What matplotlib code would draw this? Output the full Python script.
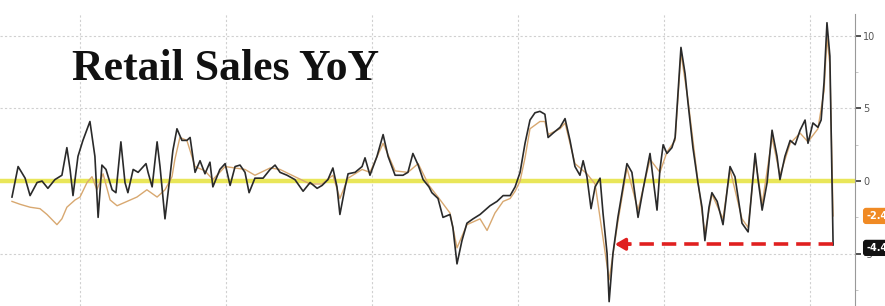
import numpy as np
import matplotlib
matplotlib.use("Agg")
import matplotlib.pyplot as plt

years = [1992.67, 1992.88, 1993.12, 1993.29, 1993.53, 1993.70, 1993.90, 1994.14, 1994.38, 1994.55,
         1994.66, 1994.76, 1994.93, 1995.10, 1995.34, 1995.51, 1995.62, 1995.75, 1995.89, 1996.10,
         1996.23, 1996.40, 1996.54, 1996.64, 1996.82, 1996.99, 1997.26, 1997.33, 1997.47, 1997.64,
         1997.74, 1997.91, 1998.08, 1998.18, 1998.32, 1998.49, 1998.66, 1998.77, 1998.94, 1999.11,
         1999.28, 1999.45, 1999.55, 1999.79, 1999.97, 2000.14, 2000.31, 2000.48, 2000.65, 2000.79,
         2000.99, 2001.27, 2001.51, 2001.68, 2001.85, 2002.09, 2002.36, 2002.64, 2002.88, 2003.12,
         2003.29, 2003.49, 2003.66, 2003.80, 2003.90, 2004.08, 2004.18, 2004.42, 2004.66, 2004.76,
         2004.93, 2005.17, 2005.38, 2005.55, 2005.79, 2006.06, 2006.23, 2006.40, 2006.58, 2006.75,
         2006.95, 2007.05, 2007.26, 2007.43, 2007.67, 2007.77, 2007.91, 2008.08, 2008.25, 2008.46,
         2008.70, 2008.87, 2009.04, 2009.28, 2009.49, 2009.73, 2009.90, 2010.07, 2010.24, 2010.41,
         2010.58, 2010.75, 2010.92, 2011.03, 2011.20, 2011.44, 2011.61, 2011.78, 2011.95, 2012.12,
         2012.23, 2012.36, 2012.50, 2012.64, 2012.81, 2012.91, 2013.05, 2013.12, 2013.25, 2013.42,
         2013.73, 2013.90, 2014.11, 2014.28, 2014.52, 2014.62, 2014.76, 2014.86, 2014.97, 2015.10,
         2015.27, 2015.38, 2015.58, 2015.72, 2015.82, 2015.99, 2016.16, 2016.30, 2016.40, 2016.54,
         2016.64, 2016.82, 2017.02, 2017.26, 2017.43, 2017.67, 2017.88, 2018.12, 2018.22, 2018.36,
         2018.53, 2018.70, 2018.87, 2018.97, 2019.14, 2019.32, 2019.49, 2019.66, 2019.83, 2019.93,
         2020.10, 2020.27, 2020.38, 2020.48, 2020.58, 2020.68, 2020.79]
actual = [-1.1, 1.0, 0.2, -1.0, -0.1, 0.0, -0.5, 0.1, 0.4, 2.3,
          0.8, -1.0, 1.7, 2.8, 4.1, 1.7, -2.5, 1.1, 0.8, -0.6,
          -0.8, 2.7, -0.1, -0.8, 0.8, 0.6, 1.2, 0.6, -0.4, 2.7,
          1.0, -2.6, 0.3, 2.1, 3.6, 2.8, 2.8, 3.0, 0.6, 1.4,
          0.5, 1.3, -0.4, 0.8, 1.2, -0.3, 1.0, 1.1, 0.6, -0.8,
          0.2, 0.2, 0.8, 1.1, 0.6, 0.4, 0.1, -0.7, -0.1, -0.5,
          -0.3, 0.1, 0.9, -0.4, -2.3, -0.4, 0.5, 0.6, 1.0, 1.6,
          0.4, 1.7, 3.2, 1.7, 0.4, 0.4, 0.6, 1.9, 1.1, 0.1,
          -0.4, -0.8, -1.2, -2.5, -2.3, -3.2, -5.7, -4.1, -2.9, -2.6,
          -2.3, -2.0, -1.7, -1.4, -1.0, -1.0, -0.4, 0.6, 2.6, 4.2,
          4.7, 4.8, 4.6, 3.0, 3.3, 3.7, 4.3, 2.8, 1.0, 0.4,
          1.4, 0.3, -1.9, -0.4, 0.2, -2.2, -5.0, -8.3, -5.0, -2.5,
          1.2, 0.6, -2.5, -0.6, 1.9, 0.3, -2.0, 0.8, 2.5, 1.9,
          2.3, 3.0, 9.2, 7.4, 5.4, 2.3, -0.1, -1.8, -4.1, -1.8,
          -0.8, -1.4, -3.0, 1.0, 0.3, -2.9, -3.5, 1.9, 0.1, -2.0,
          -0.1, 3.5, 1.7, 0.1, 1.7, 2.8, 2.5, 3.5, 4.2, 2.6,
          4.0, 3.7, 4.2, 6.8, 10.9, 8.6, -4.4]

# orange series: the second (smoother) line, mostly under the black one
years2 = [1992.67, 1992.95, 1993.29, 1993.63, 1993.87, 1994.21, 1994.38, 1994.55, 1994.83, 1995.00,
          1995.24, 1995.41, 1995.58, 1995.79, 1996.03, 1996.27, 1996.61, 1996.95, 1997.29, 1997.64,
          1997.91, 1998.15, 1998.25, 1998.42, 1998.66, 1998.94, 1999.28, 1999.55, 1999.97, 2000.31,
          2000.65, 2000.99, 2001.51, 2001.85, 2002.36, 2002.88, 2003.29, 2003.66, 2003.90, 2004.18,
          2004.66, 2004.93, 2005.38, 2005.79, 2006.23, 2006.58, 2006.95, 2007.26, 2007.67, 2007.91,
          2008.25, 2008.70, 2008.94, 2009.21, 2009.49, 2009.73, 2009.90, 2010.07, 2010.24, 2010.41,
          2010.75, 2010.92, 2011.03, 2011.44, 2011.61, 2011.95, 2012.36, 2012.64, 2013.12, 2013.42,
          2013.73, 2014.11, 2014.52, 2014.86, 2015.10, 2015.38, 2015.58, 2015.82, 2016.16, 2016.40,
          2016.64, 2017.02, 2017.26, 2017.67, 2017.88, 2018.12, 2018.36, 2018.70, 2018.97, 2019.32,
          2019.66, 2019.93, 2020.27, 2020.48, 2020.58, 2020.68, 2020.79]
forecast = [-1.4, -1.6, -1.8, -1.9, -2.3, -3.0, -2.6, -1.8, -1.3, -1.1,
            -0.1, 0.3, -0.6, 0.5, -1.3, -1.7, -1.4, -1.1, -0.6, -1.1,
            -0.6, 0.3, 1.5, 3.0, 2.8, 1.0, 0.7, 0.1, 1.0, 0.9,
            0.8, 0.4, 0.9, 0.8, 0.3, -0.2, -0.2, 0.4, -1.2, 0.2,
            0.8, 0.6, 2.6, 0.7, 0.6, 1.2, -0.3, -1.1, -2.2, -4.6,
            -3.0, -2.6, -3.4, -2.2, -1.4, -1.2, -0.7, 0.0, 1.6, 3.6,
            4.1, 4.1, 3.2, 3.6, 4.0, 1.2, 0.5, -0.2, -6.8, -2.8,
            0.9, -2.0, 1.5, 0.6, 2.0, 2.8, 8.8, 5.6, 0.0, -3.6,
            -0.9, -2.6, 0.8, -2.6, -3.2, 1.6, -1.6, 3.0, 0.4, 2.6,
            3.3, 2.7, 3.6, 6.2, 9.9, 8.0, -2.4]

last_actual_label = "-4.4"
last_forecast_label = "-2.4"
grid_years = [1995, 2000, 2005, 2010, 2015, 2020]
y_ticks = [10, 5, 0, -5]

fig = plt.figure(figsize=(8.85, 3.06), dpi=100)
ax = fig.add_axes([0, 0, 855 / 885, 1 - 14 / 306])

ax.set_xlim(1992.26, 2021.54)
ax.set_ylim(-8.6, 11.5)

for gx in grid_years:
    ax.axvline(gx, color="#d0d0d0", lw=0.8, ls=(0, (2, 2)), zorder=0)
for gy in [10, 5, -5]:
    ax.axhline(gy, color="#d0d0d0", lw=0.8, ls=(0, (2, 2)), zorder=0)

# zero line, thick yellow
ax.axhline(0, color="#e6e23c", lw=3.2, alpha=0.85, zorder=1)

ax.plot(years2, forecast, color="#d8a870", lw=1.0, zorder=2)
ax.plot(years, actual, color="#2a2a2a", lw=1.2, zorder=3)

# red dashed arrow from latest print back to the 2013 low
arrow_y = actual[-1] + 0.05
arrow_tail = years[-1]
arrow_head = years[int(np.argmin(actual))] + 0.1
ax.plot([arrow_tail, arrow_head + 0.5], [arrow_y, arrow_y], color="#e02020",
        lw=2.6, ls=(0, (4, 2.2)), zorder=4)
ax.annotate("", xy=(arrow_head, arrow_y), xytext=(arrow_head + 0.7, arrow_y),
            arrowprops=dict(arrowstyle="-|>,head_length=0.6,head_width=0.35",
                            color="#e02020", lw=2.4), zorder=4)

# right axis
ax.yaxis.tick_right()
ax.set_yticks(y_ticks)
ax.set_yticks([7.5, 2.5, -2.5, -7.5], minor=True)
ax.set_yticklabels([str(t) for t in y_ticks])
ax.tick_params(axis="y", which="major", length=4, width=1.2, color="#333333",
               labelsize=7, labelcolor="#555555", pad=2)
ax.tick_params(axis="y", which="minor", length=2, color="#bbbbbb")
ax.set_xticks([])
for side in ["top", "left", "bottom"]:
    ax.spines[side].set_visible(False)
ax.spines["right"].set_color("#999999")
ax.spines["right"].set_linewidth(0.8)

# last value tags
ax.annotate(last_forecast_label, xy=(1.0, forecast[-1]), xycoords=("axes fraction", "data"),
            xytext=(8, 0), textcoords="offset points", va="center", ha="left",
            fontsize=7, color="white", fontweight="bold",
            bbox=dict(boxstyle="round,pad=0.25", fc="#f08a24", ec="#f08a24"),
            annotation_clip=False)
ax.annotate(last_actual_label, xy=(1.0, actual[-1] - 0.2), xycoords=("axes fraction", "data"),
            xytext=(8, 0), textcoords="offset points", va="center", ha="left",
            fontsize=7, color="white", fontweight="bold",
            bbox=dict(boxstyle="round,pad=0.25", fc="#111111", ec="#111111"),
            annotation_clip=False)

fig.text(72 / 885, 1 - 69 / 306, "Retail Sales YoY", fontsize=31.5, fontweight="bold",
         family=["Liberation Serif", "DejaVu Serif"], color="#111111", va="center", ha="left")

fig.savefig("out.png", dpi=100)
